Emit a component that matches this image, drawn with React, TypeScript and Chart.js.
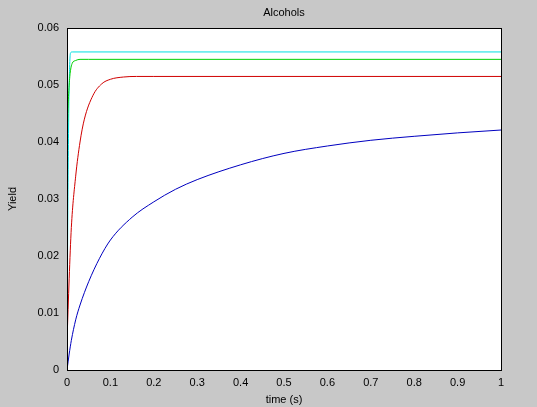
import React, { useEffect, useRef } from "react";
import { Chart, registerables } from "chart.js";
Chart.register(...registerables);

const blueX = [0, 0.005, 0.01, 0.02, 0.03, 0.05, 0.075, 0.1, 0.15, 0.2, 0.25, 0.3, 0.4, 0.5, 0.6, 0.7, 0.8, 0.9, 1.0];
const blueY = [0, 0.0028, 0.0052, 0.0088, 0.0114, 0.0155, 0.0196, 0.0228, 0.0268, 0.0295, 0.0317, 0.0334, 0.0360, 0.0380, 0.0393, 0.0403, 0.0410, 0.0416, 0.0421];
const redX = [0, 0.005, 0.01, 0.02, 0.03, 0.04, 0.06, 0.08, 0.1, 0.13, 0.16, 0.2, 1.0];
const redY = [0.005, 0.016, 0.025, 0.034, 0.040, 0.044, 0.0482, 0.0502, 0.0510, 0.0514, 0.0515, 0.0515, 0.0515];
const greenX = [0, 0.002, 0.005, 0.008, 0.012, 0.02, 0.03, 0.05, 1.0];
const greenY = [0.038, 0.045, 0.050, 0.0525, 0.0538, 0.0543, 0.0545, 0.0545, 0.0545];
const cyanX = [0, 0.002, 0.004, 0.006, 0.008, 0.012, 1.0];
const cyanY = [0.005, 0.028, 0.045, 0.053, 0.0556, 0.0558, 0.0558];

const pts = (xs: number[], ys: number[]) => xs.map((x, i) => ({ x, y: ys[i] }));

export default function App() {
  const ref = useRef<HTMLCanvasElement>(null);
  useEffect(() => {
    document.body.style.margin = "0";
    const font = { family: "Liberation Sans, Arial, sans-serif", size: 11 };
    const ds = (xs: number[], ys: number[], c: string) => ({
      data: pts(xs, ys), borderColor: c, borderWidth: 1, pointRadius: 0, cubicInterpolationMode: "monotone" as const,
    });
    const chart = new Chart(ref.current!, {
      type: "line",
      data: { datasets: [ds(blueX, blueY, "#0000c0"), ds(redX, redY, "#d00000"), ds(greenX, greenY, "#00d000"), ds(cyanX, cyanY, "#00e0e0")] },
      options: {
        animation: false, responsive: false,
        layout: { padding: { top: 28, right: 36, left: 0, bottom: 0 } },
        plugins: { legend: { display: false }, tooltip: { enabled: false } },
        scales: {
          x: {
            type: "linear", min: 0, max: 1,
            grid: { display: false, drawTicks: true, tickLength: 4, color: "#000" },
            border: { color: "#000" },
            ticks: { stepSize: 0.1, color: "#000", font, padding: 2, maxRotation: 0, callback: (v: any) => String(Math.round(Number(v) * 10) / 10) },
            title: { display: true, text: "time (s)", color: "#000", font, padding: 0 },
            afterFit: (s: any) => { s.height = 37; },
          },
          y: {
            min: 0, max: 0.06,
            grid: { display: false, tickLength: 4 },
            border: { color: "#000" },
            ticks: { stepSize: 0.01, color: "#000", font, padding: 4, callback: (v: any) => { const n = Math.round(Number(v) * 100) / 100; return n === 0 ? "0" : n.toFixed(2); } },
            title: { display: true, text: "Yield", color: "#000", font, padding: 6 },
            afterFit: (s: any) => { s.width = 67; },
          },
        },
      },
      plugins: [{
        id: "bg",
        beforeDraw(c: any) {
          const { ctx, chartArea: a, width, height } = c;
          ctx.save();
          ctx.fillStyle = "#c8c8c8"; ctx.fillRect(0, 0, width, height);
          ctx.fillStyle = "#fff"; ctx.fillRect(a.left, a.top, a.right - a.left, a.bottom - a.top);
          ctx.restore();
        },
        afterDraw(c: any) {
          const { ctx, chartArea: a } = c;
          ctx.save();
          ctx.strokeStyle = "#000"; ctx.lineWidth = 1;
          ctx.strokeRect(a.left + 0.5, a.top + 0.5, a.right - a.left, a.bottom - a.top);
          ctx.fillStyle = "#000"; ctx.font = "11px Liberation Sans, Arial, sans-serif";
          ctx.textAlign = "center"; ctx.textBaseline = "middle";
          ctx.fillText("Alcohols", (a.left + a.right) / 2, 13);
          ctx.restore();
        },
      }],
    } as any);
    return () => chart.destroy();
  }, []);
  return <canvas ref={ref} width={537} height={407} style={{ display: "block" }} />;
}
